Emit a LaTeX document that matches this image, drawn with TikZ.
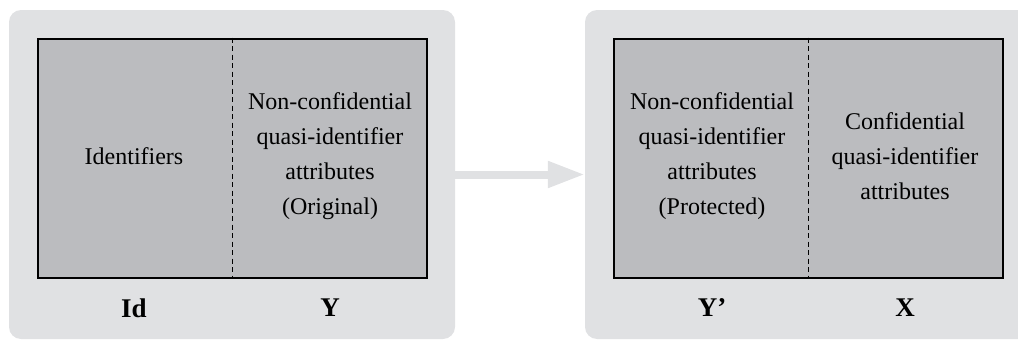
\documentclass[tikz,border=0pt]{standalone}
\usepackage{fontspec}
\setmainfont{Liberation Serif}
\usetikzlibrary{arrows.meta}
\definecolor{panelgray}{HTML}{E0E1E3}
\definecolor{cellgray}{HTML}{BBBCBF}

\begin{document}
\begin{tikzpicture}[x=1pt,y=-1pt,
  panel/.style={fill=panelgray,rounded corners=12pt,minimum width=446pt,minimum height=329pt,inner sep=0pt},
  datatable/.style={draw=black,line width=2.8pt,fill=cellgray,minimum width=389pt,minimum height=239pt,inner sep=0pt},
  cell/.style={align=center,font=\fontsize{24}{35}\selectfont,inner sep=0pt},
  colname/.style={font=\fontsize{27}{30}\selectfont\bfseries,inner sep=0pt}]
  \useasboundingbox (0,0) rectangle (1018,340);
  \clip (0,0) rectangle (1018,340);

  \node[panel] (origpanel) at (232,174.5){};
  \node[panel] (protpanel) at (808,174.5){};

  \node[datatable] (origtable) at (232.5,158.5){};
  \node[datatable] (prottable) at (808.5,158.5){};

  \draw[dashed,line width=1.4pt,dash pattern=on 5pt off 3.5pt](origtable.north)--(origtable.south);
  \draw[dashed,line width=1.4pt,dash pattern=on 5pt off 3.5pt](prottable.north)--(prottable.south);

  \node[cell] (ident) at (134,156){Identifiers};
  \node[cell] (yorig) at (330,156){Non-confidential\\quasi-identifier\\attributes\\(Original)};
  \node[cell] (yprot) at (712,156){Non-confidential\\quasi-identifier\\attributes\\(Protected)};
  \node[cell] (xconf) at (905,156){Confidential\\quasi-identifier\\attributes};

  \node[colname] (idlab) at (134,308){Id};
  \node[colname] (ylab) at (330,308){Y};
  \node[colname] (yplab) at (712,308){Y’};
  \node[colname] (xlab) at (905,308){X};

  \draw[panelgray,line width=8pt,-{Triangle[length=37pt,width=25pt]}](origpanel.east)--(protpanel.west);
\end{tikzpicture}
\end{document}
